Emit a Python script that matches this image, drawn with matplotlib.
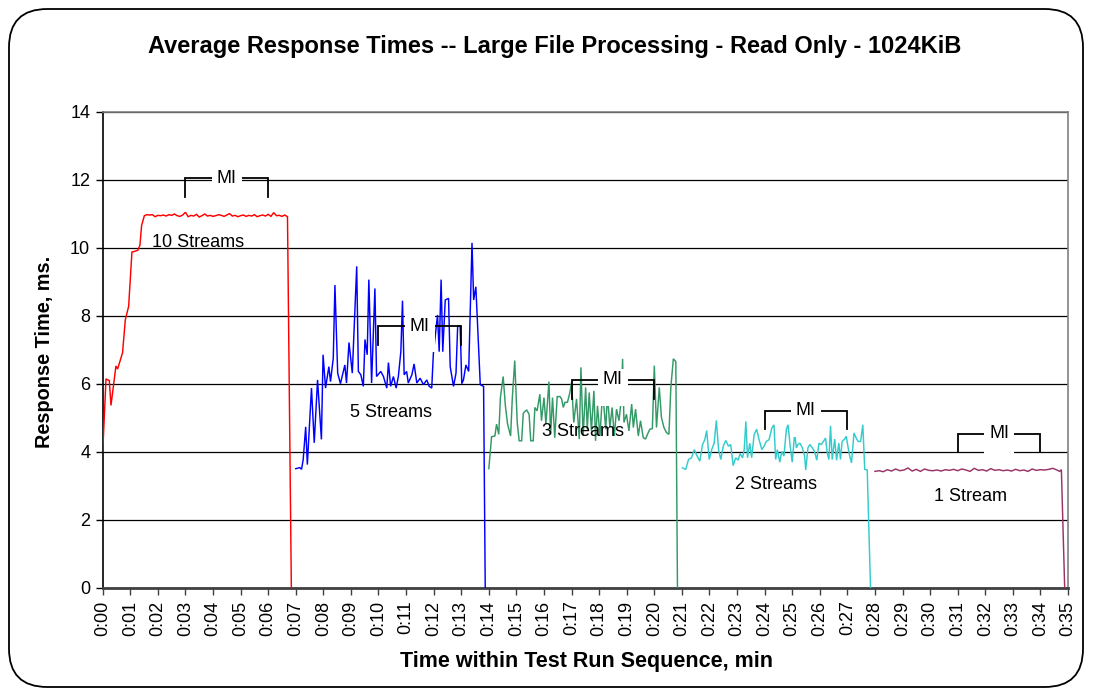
import matplotlib
matplotlib.use("Agg")
import matplotlib.pyplot as plt
import matplotlib.transforms as mtransforms
from matplotlib.patches import FancyBboxPatch, Rectangle

plt.rcParams['font.family'] = ['Liberation Sans', 'DejaVu Sans']

# ---------------- data ----------------
title = "Average Response Times -- Large File Processing - Read Only - 1024KiB"
x_label = "Time within Test Run Sequence, min"
y_label = "Response Time, ms."
x_tick_labels = ["0:%02d" % m for m in range(36)]

red_t = [0.00, 0.12, 0.24, 0.30, 0.48, 0.54, 0.72, 0.82, 0.94, 1.06, 1.27, 1.35, 1.41, 1.51, 1.60,
         1.7, 1.8, 1.9, 2.0, 2.1, 2.2, 2.3, 2.4, 2.5, 2.6, 2.7, 2.8, 2.9, 3.0, 3.1, 3.2, 3.3, 3.4,
         3.5, 3.6, 3.7, 3.8, 3.9, 4.0, 4.1, 4.2, 4.3, 4.4, 4.5, 4.6, 4.7, 4.8, 4.9, 5.0, 5.1, 5.2,
         5.3, 5.4, 5.5, 5.6, 5.7, 5.8, 5.9, 6.0, 6.1, 6.2, 6.3, 6.4, 6.5, 6.6, 6.7, 6.84]
red_v = [4.00, 6.15, 6.10, 5.37, 6.53, 6.44, 6.92, 7.89, 8.28, 9.88, 9.93, 10.08, 10.66, 10.95, 10.98,
         10.97, 10.98, 10.92, 10.96, 10.95, 10.97, 10.94, 10.98, 10.96, 11.00,
         10.95, 10.93, 10.97, 11.05, 10.92, 10.96, 10.94, 10.99, 10.91, 10.95,
         11.00, 10.94, 10.96, 10.93, 10.95, 10.98, 10.96, 10.93, 10.97, 11.01,
         10.94, 10.96, 10.92, 10.95, 10.97, 10.93, 10.96, 10.94, 10.98, 10.92,
         10.95, 10.97, 10.94, 10.99, 10.93, 11.04, 10.95, 10.96, 10.93, 10.97, 10.92, 0.0]

blue_t = [7.00, 7.15, 7.21, 7.27, 7.36, 7.42, 7.57, 7.67, 7.79, 7.93, 7.99, 8.08, 8.20, 8.26, 8.36,
          8.42, 8.52, 8.62, 8.78, 8.84, 8.93, 9.05, 9.21, 9.27, 9.36, 9.45, 9.51, 9.59, 9.65, 9.75,
          9.87, 9.93, 10.08, 10.18, 10.30, 10.36, 10.44, 10.54, 10.64, 10.72, 10.81, 10.87, 10.93,
          11.02, 11.08, 11.21, 11.29, 11.39, 11.51, 11.63, 11.75, 11.84, 11.93, 11.99, 12.14, 12.20,
          12.27, 12.33, 12.42, 12.54, 12.60, 12.72, 12.81, 12.87, 12.96, 13.02, 13.08, 13.17, 13.27,
          13.39, 13.45, 13.53, 13.69, 13.81, 13.87]
blue_v = [3.51, 3.54, 3.49, 3.78, 4.74, 3.63, 5.88, 4.27, 6.12, 4.37, 6.86, 5.88, 6.51, 6.07, 6.76,
          8.91, 6.32, 6.01, 6.56, 6.03, 7.22, 6.32, 9.46, 6.37, 6.27, 5.93, 7.31, 6.86, 9.07, 6.03,
          8.81, 6.22, 6.37, 6.22, 5.88, 6.63, 5.93, 6.22, 5.88, 6.22, 6.95, 8.45, 6.27,
          6.37, 6.03, 6.27, 6.59, 6.03, 6.17, 5.98, 6.12, 5.93, 5.88, 6.90, 8.03, 6.95,
          9.07, 6.95, 8.47, 8.52, 6.51, 5.93, 6.32, 7.69, 7.71, 6.01, 6.12, 6.56, 6.37,
          10.15, 8.47, 8.86, 5.98, 5.93, 0.0]

green_t = [14.00, 14.10, 14.22, 14.28, 14.36, 14.42, 14.52, 14.60, 14.68, 14.79, 14.85, 14.94, 15.03,
           15.10, 15.19, 15.25, 15.37, 15.46, 15.52, 15.61, 15.67, 15.75, 15.85, 15.91, 16.00, 16.07,
           16.18, 16.24, 16.31, 16.39, 16.48, 16.58, 16.64, 16.70, 16.76, 16.85, 16.94, 17.00, 17.08,
           17.18, 17.28, 17.34, 17.42, 17.51, 17.57, 17.64, 17.72, 17.81, 17.87, 17.94, 18.03, 18.11,
           18.17, 18.24, 18.30, 18.39, 18.47, 18.55, 18.63, 18.72, 18.81, 18.85, 18.90, 18.99, 19.08,
           19.18, 19.24, 19.32, 19.42, 19.50, 19.60, 19.68, 19.78, 19.84, 19.93, 20.00, 20.08, 20.18,
           20.26, 20.35, 20.44, 20.53, 20.60, 20.69, 20.78, 20.84]
green_v = [3.51, 4.45, 4.47, 4.82, 4.52, 5.60, 6.22, 5.36, 4.82, 4.47, 5.56, 6.69, 4.87,
           4.33, 4.33, 5.14, 5.24, 5.11, 4.33, 4.33, 5.31, 5.21, 5.70, 4.92, 5.60, 4.82,
           6.07, 4.52, 5.60, 4.42, 5.63, 5.63, 5.56, 5.31, 5.46, 5.46, 5.75, 6.05, 4.87,
           5.56, 4.38, 6.49, 4.47, 5.90, 4.67, 5.75, 4.62, 5.80, 4.33, 5.36, 4.47, 5.56,
           5.36, 4.67, 5.70, 4.72, 5.31, 4.47, 5.26, 4.92, 5.60, 6.74, 4.87, 5.11, 4.62,
           5.41, 4.72, 5.26, 4.47, 4.92, 4.42, 4.38, 4.57, 4.67, 4.69, 6.54, 4.72, 5.90,
           5.01, 4.72, 4.57, 4.52, 5.90, 6.74, 6.66, 0.0]

cyan_t = [21.02, 21.14, 21.24, 21.35, 21.45, 21.53, 21.65, 21.75, 21.83, 21.90, 21.99, 22.09, 22.17,
          22.25, 22.33, 22.41, 22.50, 22.59, 22.69, 22.77, 22.86, 22.95, 23.04, 23.11, 23.20, 23.26,
          23.32, 23.38, 23.46, 23.53, 23.62, 23.71, 23.80, 23.90, 23.98, 24.06, 24.16, 24.26, 24.34,
          24.40, 24.46, 24.55, 24.62, 24.70, 24.79, 24.85, 24.92, 25.00, 25.09, 25.15, 25.21, 25.28,
          25.37, 25.45, 25.49, 25.57, 25.64, 25.73, 25.81, 25.89, 25.97, 26.05, 26.13, 26.21, 26.27,
          26.33, 26.39, 26.45, 26.54, 26.61, 26.69, 26.75, 26.81, 26.90, 26.96, 27.06, 27.15, 27.24,
          27.32, 27.39, 27.48, 27.56, 27.63, 27.72, 27.84]
cyan_v = [3.53, 3.49, 3.78, 3.83, 4.07, 3.92, 3.73, 4.22, 4.36, 4.63, 3.78, 4.09, 4.26,
          4.93, 4.07, 3.78, 4.17, 4.34, 4.17, 4.22, 3.60, 3.83, 3.76, 3.95, 3.83, 4.07,
          4.90, 3.83, 4.26, 3.83, 4.51, 4.67, 4.36, 4.07, 4.17, 4.31, 4.36, 4.70, 4.80,
          3.78, 4.07, 3.70, 4.02, 3.88, 4.67, 4.80, 4.22, 3.70, 4.56, 4.12, 4.22, 4.26,
          4.12, 3.88, 3.47, 4.12, 4.22, 4.12, 4.02, 3.76, 4.26, 4.22, 4.31, 4.41, 3.97,
          3.78, 4.77, 3.78, 4.38, 3.76, 4.26, 3.78, 4.31, 4.38, 4.46, 3.97, 3.68, 4.56,
          4.41, 4.31, 4.31, 4.80, 3.49, 3.47, 0.0]

maroon_t = [28.00, 28.15, 28.30, 28.45, 28.60, 28.75, 28.90, 29.05, 29.20, 29.35, 29.50, 29.65,
            29.80, 29.95, 30.10, 30.25, 30.40, 30.55, 30.70, 30.85, 31.00, 31.15, 31.30, 31.45,
            31.60, 31.75, 31.90, 32.05, 32.20, 32.35, 32.50, 32.65, 32.80, 32.95, 33.10, 33.25,
            33.40, 33.55, 33.70, 33.85, 34.00, 34.15, 34.30, 34.45, 34.60, 34.70, 34.76, 34.88]
maroon_v = [3.43, 3.45, 3.42, 3.48, 3.44, 3.50, 3.45, 3.47, 3.53, 3.44, 3.49, 3.43,
            3.50, 3.46, 3.45, 3.47, 3.44, 3.48, 3.46, 3.49, 3.45, 3.50, 3.47, 3.43,
            3.52, 3.46, 3.48, 3.44, 3.51, 3.46, 3.48, 3.45, 3.47, 3.44, 3.49, 3.45,
            3.47, 3.43, 3.50, 3.46, 3.48, 3.47, 3.49, 3.52, 3.47, 3.43, 3.48, 0.0]

series_names = ["10 Streams", "5 Streams", "3 Streams", "2 Streams", "1 Stream"]
series_colors = ["#FF0000", "#0000FF", "#339966", "#33CCCC", "#993366"]
series_t = [red_t, blue_t, green_t, cyan_t, maroon_t]
series_v = [red_v, blue_v, green_v, cyan_v, maroon_v]

# label anchor (minute, value) for each series name
label_x = [3.45, 10.45, 17.4, 24.4, 31.45]
label_y = [10.15, 5.15, 4.6, 3.05, 2.7]

# MI brackets: start minute, end minute, level
mi_start = [3, 10, 17, 24, 31]
mi_end = [6, 13, 20, 27, 34]
mi_level = [12.05, 7.7, 6.12, 5.22, 4.54]

# ---------------- figure ----------------
W, H = 1093, 696
fig = plt.figure(figsize=(W / 100, H / 100), dpi=100)
fig.patch.set_facecolor("white")

# rounded outer frame
frame = FancyBboxPatch((9 / W, 9 / H), (W - 19) / W, (H - 18) / H,
                       boxstyle="round,pad=0,rounding_size=0.035",
                       transform=fig.transFigure, facecolor="none",
                       edgecolor="black", linewidth=1.3, mutation_aspect=W / H)
fig.patches.append(frame)

ax = fig.add_axes([102.7 / W, 1 - 588 / H, (1068 - 102.7) / W, (588 - 112) / H])
ax.set_xlim(0, 35)
ax.set_ylim(0, 14)

for t, v, c in zip(series_t, series_v, series_colors):
    ax.plot(t, v, color=c, linewidth=1.05, zorder=3, solid_joinstyle="miter")

for name, lx, ly in zip(series_names, label_x, label_y):
    ax.text(lx, ly, name, ha="center", va="center", fontsize=13, color="black", zorder=4)

for s, e, lvl in zip(mi_start, mi_end, mi_level):
    drop = 0.55
    ax.plot([s, s, e, e], [lvl - drop, lvl, lvl, lvl - drop], color="black", linewidth=1.3,
            zorder=5, solid_joinstyle="miter")
    mid = (s + e) / 2
    tr = fig.dpi_scale_trans + mtransforms.ScaledTranslation(mid, lvl, ax.transData)
    ax.add_patch(Rectangle((-0.15, -0.26), 0.30, 0.37, transform=tr, facecolor="white",
                           edgecolor="none", zorder=6))
    ax.text(mid, lvl, "MI", ha="center", va="center", fontsize=13, zorder=7)

# grid
ax.set_yticks(range(0, 15, 2))
ax.set_xticks(range(36))
ax.set_xticklabels(x_tick_labels, rotation=90, fontsize=13)
ax.tick_params(axis="y", labelsize=13, length=5, width=1, direction="out", pad=4)
ax.tick_params(axis="x", length=5, width=1, direction="out", pad=4, color="#404040")
ax.yaxis.grid(True, color="black", linewidth=0.9, zorder=1)
ax.set_axisbelow(True)

ax.spines["left"].set_color("black")
ax.spines["left"].set_linewidth(1.2)
ax.spines["bottom"].set_color("#404040")
ax.spines["bottom"].set_linewidth(2.0)
ax.spines["top"].set_color("#808080")
ax.spines["top"].set_linewidth(1.2)
ax.spines["right"].set_color("#808080")
ax.spines["right"].set_linewidth(1.2)

fig.text(555 / W, 1 - 47 / H, title, ha="center", va="center", fontsize=17, fontweight="bold")
fig.text(586 / W, 1 - 662 / H, x_label, ha="center", va="center", fontsize=15.5, fontweight="bold")
fig.text(45 / W, 1 - 352 / H, y_label, ha="center", va="center", rotation=90, fontsize=14.3,
         fontweight="bold")

fig.savefig("out.png", dpi=100)
